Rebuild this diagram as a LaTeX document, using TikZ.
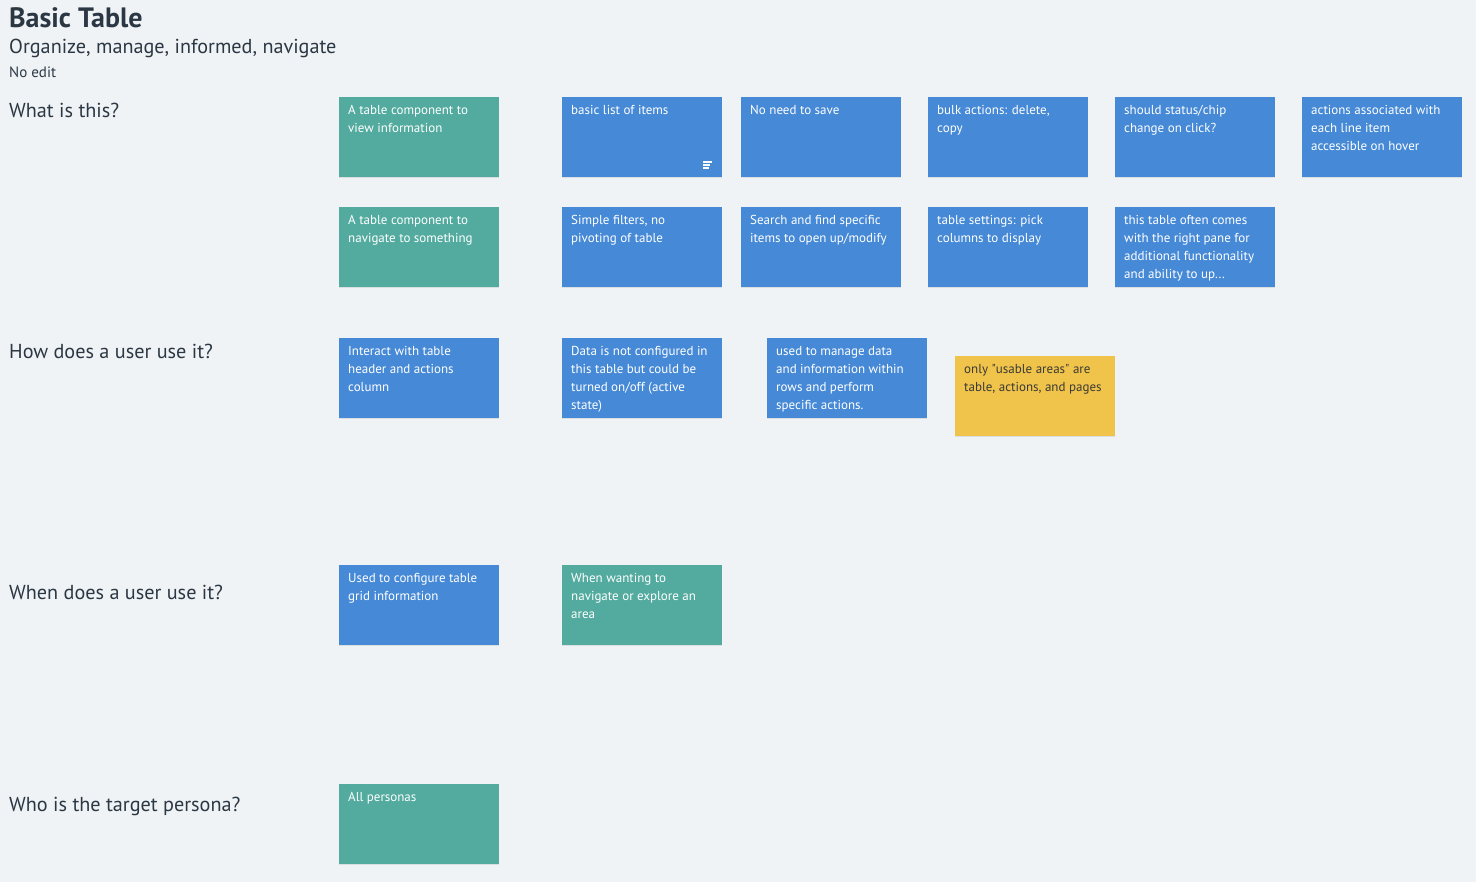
\documentclass[tikz,border=0pt]{standalone}
\usepackage{fontspec}
\setmainfont{PT Sans}
\usepackage{tikz}
\usetikzlibrary{shadows}
\definecolor{Ink}{HTML}{2B3743}
\definecolor{Board}{HTML}{EFF3F6}
\definecolor{Teal}{HTML}{52AB9E}
\definecolor{Blue}{HTML}{4689D6}
\definecolor{Amber}{HTML}{F0C34B}
\definecolor{AmberInk}{HTML}{3A3A36}
\newcommand{\notetext}[1]{\parbox[t][63pt][t]{142pt}{\raggedright\rightskip=4.5pt plus 1fil #1}}

\begin{document}
\begin{tikzpicture}[
  x=1pt, y=-1pt,
  question/.style={anchor=west, text=Ink, font=\fontsize{20.2}{24}\selectfont, inner sep=0pt},
  sticky/.style={anchor=north west, inner xsep=9pt, inner ysep=8.5pt, minimum width=160pt,
    text=white, font=\fontsize{13}{18}\selectfont,
    drop shadow={shadow xshift=0pt, shadow yshift=-1pt, opacity=.18}},
  blue note/.style={sticky, fill=Blue},
  teal note/.style={sticky, fill=Teal},
  amber note/.style={sticky, fill=Amber, text=AmberInk}
]
\fill[Board] (0,0) rectangle (1476,882);
\useasboundingbox (0,0) rectangle (1476,882);

% header
\node[anchor=west, inner sep=0pt, text=Ink, font=\fontsize{28}{32}\selectfont\bfseries] (title) at (9,18) {Basic Table};
\node[anchor=west, inner sep=0pt, text=Ink, font=\fontsize{20.2}{24}\selectfont] (subtitle) at (9,48) {Organize, manage, informed, navigate};
\node[anchor=west, inner sep=0pt, text=Ink, font=\fontsize{15}{18}\selectfont] (noedit) at (9,72) {No edit};

% row labels
\node[question] (qwhat) at (9,110) {What is this?};
\node[question] (qhow) at (9,351) {How does a user use it?};
\node[question] (qwhen) at (9,592) {When does a user use it?};
\node[question] (qwho) at (9,806) {Who is the target persona?};

% what is this?
\node[teal note] (whatA) at (339,97) {\notetext{A table component to view information}};
\node[blue note] (whatB) at (562,97) {\notetext{basic list of items}};
\node[blue note] (whatC) at (741,97) {\notetext{No need to save}};
\node[blue note] (whatD) at (928,97) {\notetext{bulk actions: delete, copy}};
\node[blue note] (whatE) at (1115,97) {\notetext{should status/chip change on click?}};
\node[blue note] (whatF) at (1302,97) {\notetext{actions associated with each line item accessible on hover}};
\node[teal note] (whatG) at (339,207) {\notetext{A table component to navigate to something}};
\node[blue note] (whatH) at (562,207) {\notetext{Simple filters, no pivoting of table}};
\node[blue note] (whatI) at (741,207) {\notetext{Search and find specific items to open up/modify}};
\node[blue note] (whatJ) at (928,207) {\notetext{table settings: pick columns to display}};
\node[blue note] (whatK) at (1115,207) {\notetext{this table often comes with the right pane for additional functionality and ability to up...}};

% comment icon on whatB
\draw[white, line width=1.3pt] ([shift={(-19,-15.5)}]whatB.south east) -- ++(8.5,0);
\draw[white, line width=1.3pt] ([shift={(-19,-12.5)}]whatB.south east) -- ++(7,0);
\draw[white, line width=1.3pt] ([shift={(-19,-9.5)}]whatB.south east) -- ++(5.5,0);

% how does a user use it?
\node[blue note] (howA) at (339,338) {\notetext{Interact with table header and actions column}};
\node[blue note] (howB) at (562,338) {\notetext{Data is not configured in this table but could be turned on/off (active state)}};
\node[blue note] (howC) at (767,338) {\notetext{used to manage data and information within rows and perform specific actions.}};
\node[amber note] (howD) at (955,356) {\notetext{only \textquotedbl usable areas\textquotedbl{} are table, actions, and pages}};

% when does a user use it?
\node[blue note] (whenA) at (339,565) {\notetext{Used to configure table grid information}};
\node[teal note] (whenB) at (562,565) {\notetext{When wanting to navigate or explore an area}};

% who is the target persona?
\node[teal note] (whoA) at (339,784) {\notetext{All personas}};
\end{tikzpicture}
\end{document}
